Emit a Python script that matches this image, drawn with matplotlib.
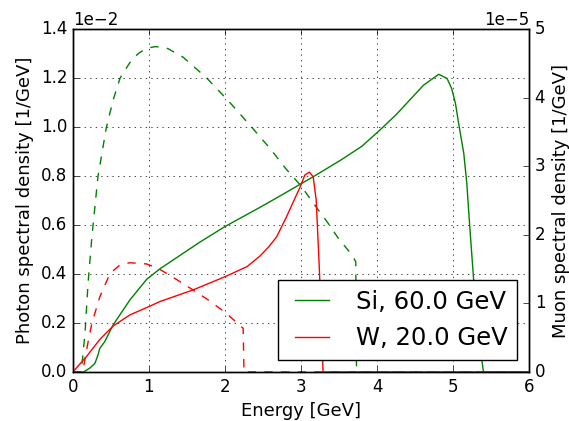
import matplotlib
matplotlib.use("Agg")
import matplotlib.pyplot as plt

plt.style.use("classic")

# --- Donnees ---
# spectres photons (axe gauche, unites 1e-2)
e_ph_si = [0.0, 0.11, 0.16, 0.20, 0.25, 0.33, 0.44, 0.53, 0.62, 0.77, 0.87, 0.97, 1.08,
           1.18, 1.25, 1.45, 1.76, 2.05, 2.35, 2.61, 2.8, 3.0, 3.16, 3.35, 3.49, 3.67,
           3.72, 3.73, 6.0]
ph_si = [0.0, 0.0, 0.158, 0.362, 0.55, 0.797, 0.997, 1.11, 1.199, 1.273, 1.302, 1.321, 1.328,
         1.326, 1.32, 1.285, 1.20, 1.105, 1.0, 0.906, 0.83, 0.76, 0.69, 0.61, 0.546, 0.478,
         0.45, 0.0, 0.0]

e_ph_w = [0.0, 0.13, 0.18, 0.25, 0.355, 0.49, 0.62, 0.75, 0.97, 1.12, 1.3, 1.58,
          1.8, 2.02, 2.24, 2.25, 6.0]
ph_w = [0.0, 0.0, 0.09, 0.199, 0.307, 0.403, 0.437, 0.446, 0.441, 0.423, 0.39, 0.335,
        0.29, 0.239, 0.178, 0.0, 0.0]

# spectres muons (axe droit, unites 1e-5)
e_mu_si = [0.0, 0.14, 0.22, 0.29, 0.33, 0.355, 0.42, 0.53, 0.75, 0.97, 1.14, 1.45,
           1.67, 2.0, 2.46, 2.72, 3.16, 3.51, 3.8, 4.04, 4.25, 4.43, 4.61, 4.81, 4.92,
           4.98, 5.03, 5.08, 5.14, 5.18, 5.22, 5.27, 5.33, 5.38, 5.40, 6.0]
mu_si = [0.0, 0.0, 0.054, 0.125, 0.246, 0.346, 0.443, 0.686, 1.05, 1.35, 1.50, 1.73,
         1.893, 2.12, 2.40, 2.564, 2.846, 3.08, 3.29, 3.53, 3.75, 3.965, 4.18, 4.34, 4.28,
         4.135, 3.92, 3.575, 3.19, 2.75, 2.10, 1.343, 0.62, 0.15, 0.0, 0.0]

e_mu_w = [0.0, 0.18, 0.355, 0.53, 0.75, 1.01, 1.14, 1.58, 2.0, 2.29, 2.46, 2.58,
          2.68, 2.81, 2.92, 2.99, 3.05, 3.11, 3.16, 3.20, 3.22, 3.24, 3.27, 3.29, 6.0]
mu_w = [0.0, 0.225, 0.475, 0.671, 0.832, 0.958, 1.025, 1.196, 1.389, 1.536, 1.69, 1.83,
        1.971, 2.264, 2.532, 2.70, 2.871, 2.914, 2.846, 2.507, 2.021, 1.536, 0.65, 0.0, 0.0]

labels = ["Si, 60.0 GeV", "W, 20.0 GeV"]
couleurs = ["g", "r"]

# --- Graphique ---
fig = plt.figure(figsize=(5.69, 4.21), dpi=100, facecolor="white")
ax = fig.add_axes([0.128, 0.1164, 0.802, 0.8147])
ax2 = ax.twinx()

ax.plot(e_ph_si, [v * 1e-2 for v in ph_si], "--", color=couleurs[0])
ax.plot(e_ph_w, [v * 1e-2 for v in ph_w], "--", color=couleurs[1])

ax2.plot(e_mu_si, [v * 1e-5 for v in mu_si], "-", color=couleurs[0], label=labels[0])
ax2.plot(e_mu_w, [v * 1e-5 for v in mu_w], "-", color=couleurs[1], label=labels[1])

ax.set_xlim(0, 6)
ax.set_ylim(0, 1.4e-2)
ax2.set_ylim(0, 5e-5)
ax.ticklabel_format(axis="y", style="sci", scilimits=(0, 0))
ax2.ticklabel_format(axis="y", style="sci", scilimits=(0, 0))

ax.set_xlabel("Energy [GeV]", fontsize=13)
ax.set_ylabel("Photon spectral density [1/GeV]", fontsize=13)
ax2.set_ylabel("Muon spectral density [1/GeV]", fontsize=13)
ax.tick_params(labelsize=12)
ax2.tick_params(labelsize=12)
ax.yaxis.get_offset_text().set_fontsize(12)
ax2.yaxis.get_offset_text().set_fontsize(12)
ax.grid(True)

ax2.legend(loc="lower right", fontsize=17.5)

fig.savefig("out.png", dpi=100)
